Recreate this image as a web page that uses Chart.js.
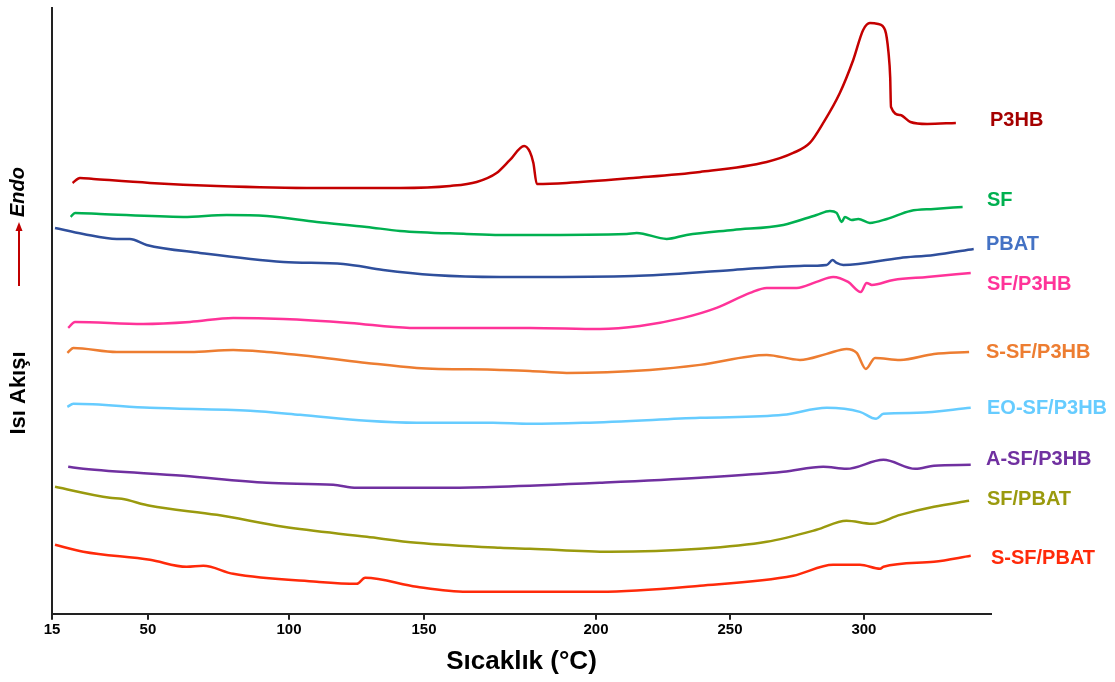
<!DOCTYPE html>
<html>
<head>
<meta charset="utf-8">
<script src="https://cdn.jsdelivr.net/npm/chart.js@4/dist/chart.umd.min.js"></script>
<style>
  html, body { margin: 0; padding: 0; background: #fff; }
  #wrap { width: 1115px; height: 682px; position: relative; }
</style>
</head>
<body>
<div id="wrap"><canvas id="c"></canvas></div>
<script>
// ---- Data (temperature in °C, heat flow in arbitrary units) ----
const SERIES_NAMES = ['P3HB', 'SF', 'PBAT', 'SF/P3HB', 'S-SF/P3HB', 'EO-SF/P3HB', 'A-SF/P3HB', 'SF/PBAT', 'S-SF/PBAT'];
const X_TICK_VALUES = [15, 50, 100, 150, 200, 250, 300];

const P3HB_T = [22.5, 25.2, 30.1, 50.7, 74.4, 110.3, 141.1, 157.6, 165.3, 171.1, 175.0, 179.1, 180.8, 181.8, 182.8, 191.5, 213.9, 238.8, 263.7, 273.6, 279.8, 284.8, 291.0, 296.0, 299.7, 302.2, 305.3, 307.8, 309.1, 309.7, 310.0, 313.4, 317.2, 323.4, 334.0];
const P3HB_V = [43.1, 43.6, 43.5, 43.1, 42.8, 42.6, 42.6, 42.8, 43.2, 44.1, 45.4, 46.8, 46.2, 45.1, 43.0, 43.1, 43.6, 44.2, 45.2, 46.1, 47.1, 49.1, 52.1, 55.4, 58.4, 59.1, 59.0, 58.4, 56.1, 53.7, 50.7, 49.9, 49.2, 49.0, 49.1];

const SF_T = [21.8, 23.4, 32.5, 62.5, 77.9, 92.1, 110.3, 128.8, 141.1, 162.4, 172.1, 180.8, 211.5, 215.2, 226.4, 233.8, 251.2, 269.9, 282.3, 287.3, 289.8, 291.7, 292.9, 295.4, 297.9, 302.2, 308.5, 317.2, 325.9, 336.5];
const SF_V = [39.7, 40.1, 40.0, 39.7, 39.9, 39.8, 39.2, 38.7, 38.3, 38.0, 37.9, 37.9, 38.0, 38.1, 37.5, 37.9, 38.4, 38.9, 39.9, 40.3, 40.1, 39.2, 39.7, 39.4, 39.5, 39.1, 39.5, 40.3, 40.5, 40.7];

const PBAT_T = [16.1, 26.4, 38.6, 43.4, 49.5, 68.4, 98.0, 120.1, 134.9, 152.7, 172.1, 180.8, 213.9, 251.2, 276.1, 286.1, 288.3, 289.8, 292.3, 313.4, 325.9, 340.6];
const PBAT_V = [38.6, 38.0, 37.5, 37.5, 36.9, 36.1, 35.2, 35.0, 34.4, 33.9, 33.7, 33.7, 33.8, 34.4, 34.8, 34.9, 35.4, 35.1, 34.9, 35.6, 35.9, 36.5];

const SF_P3HB_T = [20.9, 23.4, 48.3, 64.9, 80.2, 98.0, 122.6, 144.8, 180.8, 201.5, 216.4, 232.6, 245.0, 257.5, 263.7, 274.9, 282.3, 288.5, 294.1, 298.8, 301.0, 302.9, 310.9, 323.4, 339.5];
const SF_P3HB_V = [28.6, 29.2, 29.0, 29.2, 29.6, 29.5, 29.1, 28.6, 28.6, 28.5, 28.8, 29.6, 30.6, 32.1, 32.6, 32.6, 33.2, 33.7, 33.2, 32.2, 33.1, 32.9, 33.4, 33.7, 34.1];

const S_SF_P3HB_T = [20.6, 22.8, 38.6, 64.9, 80.2, 92.1, 110.3, 128.8, 147.3, 172.1, 180.8, 191.5, 220.1, 238.8, 263.7, 276.1, 286.1, 293.5, 297.3, 300.7, 304.1, 313.4, 325.9, 338.9];
const S_SF_P3HB_V = [26.1, 26.6, 26.2, 26.2, 26.4, 26.2, 25.7, 25.1, 24.6, 24.4, 24.3, 24.1, 24.4, 24.9, 25.9, 25.4, 26.0, 26.5, 26.1, 24.5, 25.6, 25.4, 26.0, 26.2];

const EO_SF_P3HB_T = [20.6, 22.8, 50.7, 86.2, 104.1, 128.8, 147.3, 170.1, 180.8, 196.3, 238.8, 269.9, 286.1, 298.5, 304.5, 307.2, 319.7, 339.5];
const EO_SF_P3HB_V = [20.7, 21.0, 20.6, 20.3, 19.9, 19.3, 19.1, 19.1, 19.0, 19.1, 19.6, 19.9, 20.6, 20.2, 19.5, 20.0, 20.1, 20.6];

const A_SF_P3HB_T = [20.9, 26.4, 62.5, 92.1, 116.4, 125.1, 157.6, 172.1, 201.5, 238.8, 269.9, 284.8, 293.5, 307.2, 319.0, 325.9, 339.5];
const A_SF_P3HB_V = [14.7, 14.5, 13.8, 13.1, 12.9, 12.6, 12.6, 12.7, 13.1, 13.6, 14.2, 14.7, 14.5, 15.4, 14.5, 14.8, 14.9];

const SF_PBAT_T = [16.1, 36.1, 40.4, 50.7, 74.4, 98.0, 128.8, 147.3, 172.1, 180.8, 205.2, 238.8, 263.7, 282.3, 293.5, 302.9, 313.4, 325.9, 338.9];
const SF_PBAT_V = [12.7, 11.6, 11.5, 10.8, 9.9, 8.7, 7.7, 7.1, 6.6, 6.5, 6.2, 6.5, 7.2, 8.4, 9.3, 9.0, 9.9, 10.7, 11.3];

const S_SF_PBAT_T = [16.1, 26.4, 50.7, 63.7, 69.6, 80.2, 110.3, 125.1, 128.2, 147.3, 162.4, 180.8, 201.5, 238.8, 273.6, 288.5, 298.5, 306.0, 307.2, 325.9, 339.5];
const S_SF_PBAT_V = [6.9, 6.2, 5.4, 4.7, 4.8, 4.0, 3.2, 3.0, 3.6, 2.7, 2.2, 2.2, 2.2, 2.8, 3.8, 4.9, 4.9, 4.5, 4.7, 5.2, 5.8];

// ---- Styling / layout (not data) ----
const LINE_COLORS  = ['#C40000', '#00B050', '#2F4F9C', '#FF3399', '#ED7D31', '#66CCFF', '#7030A0', '#9A9A0E', '#FF2A0A'];
const LABEL_COLORS = ['#A50000', '#00B050', '#4472C4', '#FF3399', '#ED7D31', '#66CCFF', '#7030A0', '#9A9A0E', '#FF2A0A'];
// label placement: [x offset from plot right edge (px), y in data units]
const LABEL_PLACE = [[-1, 49.35], [-4, 41.35], [-5, 36.95], [-4, 32.93], [-5, 26.12], [-4, 20.57], [-5, 15.47], [-4, 11.45], [0, 5.57]];
// the reference axis has unevenly spaced ticks: value -> fraction of axis length
const AXIS_BREAKS = [[15, 0], [50, 0.1022], [100, 0.2524], [150, 0.3962], [200, 0.5793], [250, 0.7220], [300, 0.8647], [347, 1]];

const FONT = "'Liberation Sans', Arial, Helvetica, sans-serif";

function valueToFrac(v) {
  const k = AXIS_BREAKS;
  if (v <= k[0][0]) return k[0][1] + (v - k[0][0]) * (k[1][1] - k[0][1]) / (k[1][0] - k[0][0]);
  for (let i = 1; i < k.length; i++) {
    if (v <= k[i][0] || i === k.length - 1) {
      const a = k[i - 1], b = k[i];
      return a[1] + (v - a[0]) * (b[1] - a[1]) / (b[0] - a[0]);
    }
  }
}
function fracToValue(f) {
  const k = AXIS_BREAKS;
  for (let i = 1; i < k.length; i++) {
    if (f <= k[i][1] || i === k.length - 1) {
      const a = k[i - 1], b = k[i];
      return a[0] + (f - a[1]) * (b[0] - a[0]) / (b[1] - a[1]);
    }
  }
}

class BrokenLinearScale extends Chart.LinearScale {
  getPixelForValue(value) { return this.getPixelForDecimal(valueToFrac(value)); }
  getValueForPixel(pixel) { return fracToValue(this.getDecimalForPixel(pixel)); }
}
BrokenLinearScale.id = 'brokenLinear';
BrokenLinearScale.defaults = Chart.LinearScale.defaults;
Chart.register(BrokenLinearScale);

const SERIES = [
  [P3HB_T, P3HB_V], [SF_T, SF_V], [PBAT_T, PBAT_V], [SF_P3HB_T, SF_P3HB_V],
  [S_SF_P3HB_T, S_SF_P3HB_V], [EO_SF_P3HB_T, EO_SF_P3HB_V], [A_SF_P3HB_T, A_SF_P3HB_V],
  [SF_PBAT_T, SF_PBAT_V], [S_SF_PBAT_T, S_SF_PBAT_V]
];

const datasets = SERIES.map(([t, v], i) => ({
  label: SERIES_NAMES[i],
  data: t.map((x, j) => ({ x: x, y: v[j] })),
  borderColor: LINE_COLORS[i],
  borderWidth: 2.5,
  pointRadius: 0,
  fill: false,
  cubicInterpolationMode: 'monotone'
}));

const annotations = {
  id: 'annotations',
  afterDraw(chart) {
    const ctx = chart.ctx, area = chart.chartArea, ys = chart.scales.y;
    ctx.save();
    // series labels at the right
    ctx.font = 'bold 20px ' + FONT;
    ctx.textBaseline = 'middle';
    ctx.textAlign = 'left';
    SERIES_NAMES.forEach((name, i) => {
      ctx.fillStyle = LABEL_COLORS[i];
      ctx.fillText(name, area.right + LABEL_PLACE[i][0], ys.getPixelForValue(LABEL_PLACE[i][1]));
    });
    // y axis title
    ctx.fillStyle = '#000';
    ctx.textAlign = 'center';
    ctx.save();
    ctx.translate(19, 393);
    ctx.rotate(-Math.PI / 2);
    ctx.font = 'bold 22px ' + FONT;
    ctx.fillText('Isı Akışı', 0, 0);
    ctx.restore();
    // Endo with arrow
    ctx.save();
    ctx.translate(18, 192);
    ctx.rotate(-Math.PI / 2);
    ctx.font = 'italic bold 20px ' + FONT;
    ctx.fillText('Endo', 0, 0);
    ctx.restore();
    ctx.strokeStyle = '#C00000';
    ctx.fillStyle = '#C00000';
    ctx.lineWidth = 2;
    ctx.beginPath();
    ctx.moveTo(19, 286);
    ctx.lineTo(19, 229);
    ctx.stroke();
    ctx.beginPath();
    ctx.moveTo(19, 222);
    ctx.lineTo(15.5, 231);
    ctx.lineTo(22.5, 231);
    ctx.closePath();
    ctx.fill();
    ctx.restore();
  }
};

new Chart(document.getElementById('c'), {
  type: 'line',
  data: { datasets },
  options: {
    responsive: true,
    maintainAspectRatio: false,
    animation: false,
    layout: { padding: { left: 52, right: 124, top: 8, bottom: 5 } },
    plugins: { legend: { display: false }, tooltip: { enabled: false } },
    scales: {
      x: {
        type: 'brokenLinear',
        min: 15,
        max: 347,
        afterBuildTicks: (scale) => { scale.ticks = X_TICK_VALUES.map(v => ({ value: v })); },
        border: { display: true, color: '#222', width: 2 },
        grid: { display: true, drawOnChartArea: false, drawTicks: true, tickLength: 6, color: '#222', lineWidth: 2 },
        ticks: {
          autoSkip: false, maxRotation: 0, padding: 1,
          color: '#000', font: { family: FONT, size: 15, weight: 'bold' },
          callback: (v) => String(v)
        },
        title: {
          display: true, text: 'Sıcaklık (°C)', color: '#000',
          font: { family: FONT, size: 26, weight: 'bold' },
          padding: { top: 6, bottom: 0 }
        }
      },
      y: {
        type: 'linear',
        min: 0,
        max: 60.6,
        border: { display: true, color: '#222', width: 2 },
        grid: { display: false, drawTicks: false },
        ticks: { display: false }
      }
    }
  },
  plugins: [annotations]
});
</script>
</body>
</html>
